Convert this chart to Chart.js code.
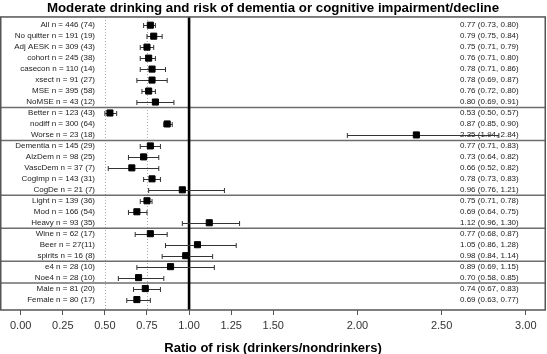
<!DOCTYPE html>
<html>
<head>
<meta charset="utf-8">
<title>Moderate drinking and risk of dementia</title>
<script src="https://cdn.jsdelivr.net/npm/chart.js@4/dist/chart.umd.min.js"></script>
<style>
  body { margin: 0; background: #fff; }
  canvas { display: block; }
</style>
</head>
<body>
<canvas id="forestChart" width="547" height="354"></canvas>
<script>
var rowLabels = ['All n = 446 (74)', 'No quitter n = 191 (19)', 'Adj AESK n = 309 (43)', 'cohort n = 245 (38)',
    'casecon n = 110 (14)', 'xsect n = 91 (27)', 'MSE n = 395 (58)', 'NoMSE n = 43 (12)',
    'Better n = 123 (43)', 'nodiff n = 300 (64)', 'Worse n = 23 (18)',
    'Dementia n = 145 (29)', 'AlzDem n = 98 (25)', 'VascDem n = 37 (7)', 'CogImp n = 143 (31)', 'CogDe n = 21 (7)',
    'Light n = 139 (36)', 'Mod n = 166 (54)', 'Heavy n = 93 (35)',
    'Wine n = 62 (17)', 'Beer n = 27(11)', 'spirits n = 16 (8)',
    'e4 n = 28 (10)', 'Noe4 n = 28 (10)',
    'Male n = 81 (20)', 'Female n = 80 (17)'];
var ratio = [0.77, 0.79, 0.75, 0.76, 0.78, 0.78, 0.76, 0.80, 0.53, 0.87, 2.35, 0.77, 0.73, 0.66, 0.78, 0.96,
    0.75, 0.69, 1.12, 0.77, 1.05, 0.98, 0.89, 0.70, 0.74, 0.69];
var lower = [0.73, 0.75, 0.71, 0.71, 0.71, 0.69, 0.72, 0.69, 0.50, 0.85, 1.94, 0.71, 0.64, 0.52, 0.73, 0.76,
    0.71, 0.64, 0.96, 0.68, 0.86, 0.84, 0.69, 0.58, 0.67, 0.63];
var upper = [0.80, 0.84, 0.79, 0.80, 0.86, 0.87, 0.80, 0.91, 0.57, 0.90, 2.84, 0.83, 0.82, 0.82, 0.83, 1.21,
    0.78, 0.75, 1.30, 0.87, 1.28, 1.14, 1.15, 0.85, 0.83, 0.77];
// last row of each group, a line goes under it
var groupEnds = [7, 10, 15, 18, 21, 23];
var tickValues = [0, 0.25, 0.5, 0.75, 1, 1.25, 1.5, 2, 2.5, 3];
var dottedAt = [0.5, 0.75];
var refLine = 1;

var points = [];
for (var i in ratio) {
    points.push({ x: ratio[i], y: Number(i) });
}

var forestPlugin = {
    id: 'forest',
    beforeDatasetsDraw: function (chart) {
        var ctx = chart.ctx;
        var area = chart.chartArea;
        var xs = chart.scales.x;
        var ys = chart.scales.y;
        ctx.save();

        // dotted guides
        ctx.strokeStyle = '#a8a8a8';
        ctx.lineWidth = 1;
        ctx.setLineDash([1, 2]);
        dottedAt.forEach(function (v) {
            var px = Math.round(xs.getPixelForValue(v)) + 0.5;
            ctx.beginPath();
            ctx.moveTo(px, area.top);
            ctx.lineTo(px, area.bottom);
            ctx.stroke();
        });
        ctx.setLineDash([]);

        // group separators
        ctx.strokeStyle = '#6e6e6e';
        ctx.lineWidth = 1.5;
        groupEnds.forEach(function (g) {
            var py = ys.getPixelForValue(g + 0.5);
            ctx.beginPath();
            ctx.moveTo(area.left, py);
            ctx.lineTo(area.right, py);
            ctx.stroke();
        });

        // no-effect line
        ctx.strokeStyle = '#000';
        ctx.lineWidth = 2.6;
        var rx = xs.getPixelForValue(refLine);
        ctx.beginPath();
        ctx.moveTo(rx, area.top);
        ctx.lineTo(rx, area.bottom);
        ctx.stroke();

        // text columns
        ctx.font = '8px "Liberation Sans", Arial, sans-serif';
        ctx.fillStyle = '#222';
        ctx.textBaseline = 'middle';
        for (var k = 0; k < rowLabels.length; k++) {
            var ty = ys.getPixelForValue(k);
            ctx.textAlign = 'right';
            ctx.fillText(rowLabels[k], area.left + 95, ty);
            ctx.textAlign = 'left';
            ctx.fillText(ratio[k].toFixed(2) + ' (' + lower[k].toFixed(2) + ', ' + upper[k].toFixed(2) + ')',
                area.left + 460, ty);
        }

        // confidence intervals
        ctx.strokeStyle = '#333';
        ctx.lineWidth = 1;
        for (var j = 0; j < ratio.length; j++) {
            var y = Math.round(ys.getPixelForValue(j)) + 0.5;
            var x1 = xs.getPixelForValue(lower[j]);
            var x2 = xs.getPixelForValue(upper[j]);
            ctx.beginPath();
            ctx.moveTo(x1, y);
            ctx.lineTo(x2, y);
            ctx.moveTo(x1, y - 2.5);
            ctx.lineTo(x1, y + 2.5);
            ctx.moveTo(x2, y - 2.5);
            ctx.lineTo(x2, y + 2.5);
            ctx.stroke();
        }
        ctx.restore();
    },
    afterDraw: function (chart) {
        var ctx = chart.ctx;
        var area = chart.chartArea;
        ctx.save();
        ctx.strokeStyle = '#555';
        ctx.lineWidth = 1.5;
        ctx.strokeRect(area.left + 0.75, area.top, area.right - area.left - 1.5, area.bottom - area.top);
        ctx.restore();
    }
};

var forestChart = new Chart(document.getElementById('forestChart'), {
    type: 'scatter',
    data: {
        datasets: [{
            label: 'Ratio of risk',
            data: points,
            pointStyle: 'rect',
            pointRadius: 4.3,
            borderWidth: 1,
            backgroundColor: '#000',
            borderColor: '#000'
        }]
    },
    options: {
        responsive: false,
        animation: false,
        devicePixelRatio: 1,
        layout: { autoPadding: false, padding: { left: 0, right: 1, top: 0, bottom: 0 } },
        plugins: {
            legend: { display: false },
            tooltip: { enabled: false },
            title: {
                display: true,
                text: 'Moderate drinking and risk of dementia or cognitive impairment/decline',
                color: '#000',
                font: { family: '"Liberation Sans", Arial, sans-serif', size: 13.3, weight: 'bold', lineHeight: 1.2 },
                padding: { top: 0, bottom: 1 }
            }
        },
        scales: {
            x: {
                type: 'linear',
                min: -0.123,
                max: 3.12,
                afterBuildTicks: function (axis) {
                    axis.ticks = tickValues.map(function (v) { return { value: v }; });
                },
                afterFit: function (axis) {
                    axis.paddingLeft = 0;
                    axis.paddingRight = 0;
                    axis.height = 44;
                },
                ticks: {
                    color: '#333',
                    padding: 4,
                    maxRotation: 0,
                    font: { family: '"Liberation Sans", Arial, sans-serif', size: 11 },
                    callback: function (value) { return Number(value).toFixed(2); }
                },
                grid: { drawOnChartArea: false, drawTicks: true, tickLength: 5, tickColor: '#555', tickWidth: 1 },
                border: { display: false },
                title: {
                    display: true,
                    text: 'Ratio of risk (drinkers/nondrinkers)',
                    color: '#000',
                    font: { family: '"Liberation Sans", Arial, sans-serif', size: 13, weight: 'bold', lineHeight: 1.2 },
                    padding: { top: 3, bottom: -2 }
                }
            },
            y: {
                type: 'linear',
                display: false,
                reverse: true,
                min: -0.75,
                max: 25.95
            }
        }
    },
    plugins: [forestPlugin]
});
</script>
</body>
</html>
